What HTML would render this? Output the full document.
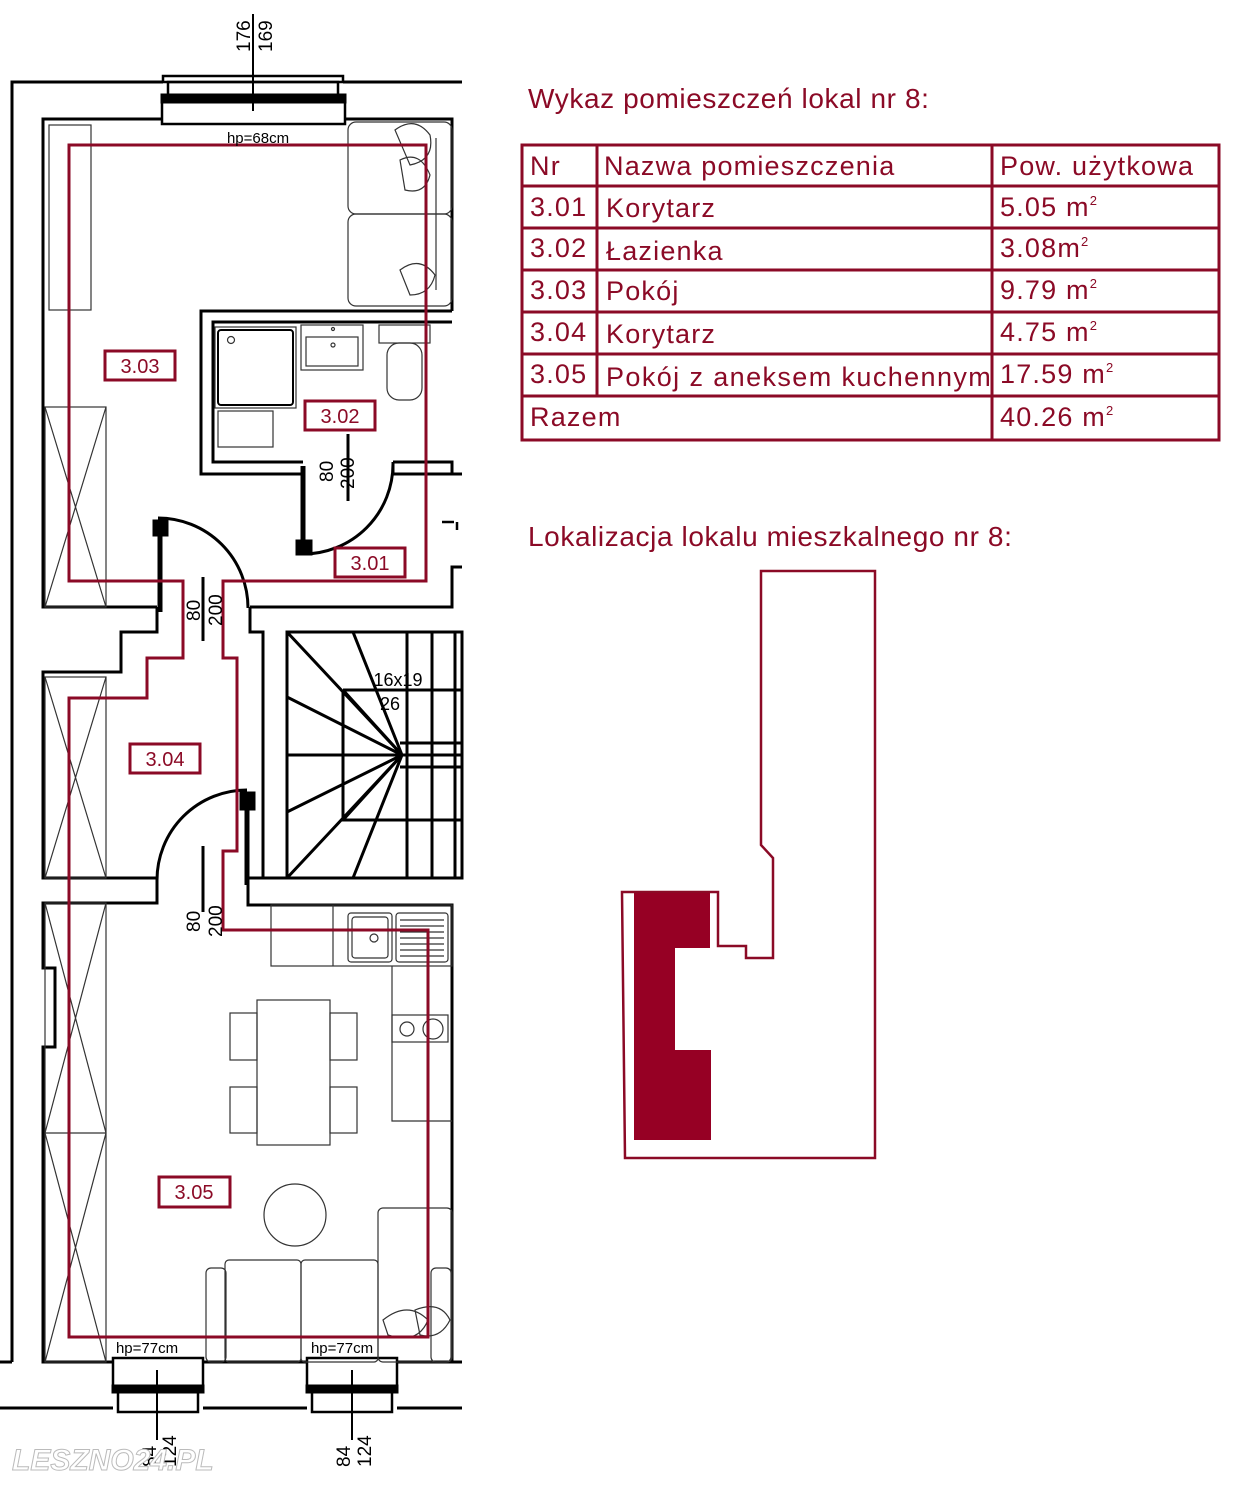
<!DOCTYPE html>
<html><head><meta charset="utf-8"><style>
html,body{margin:0;padding:0;background:#fff;}
body{width:1243px;height:1500px;position:relative;overflow:hidden;font-family:"Liberation Sans",sans-serif;}
svg{position:absolute;left:0;top:0;}
.t{font-family:"Liberation Sans",sans-serif;}
</style></head><body>
<svg width="1243" height="1500" viewBox="0 0 1243 1500" xmlns="http://www.w3.org/2000/svg">
<g fill="none" stroke="#000" stroke-width="3">
<polyline points="12,1362 12,82 163,82"/>
<line x1="343" y1="82" x2="462" y2="82"/>
<line x1="0" y1="1408" x2="113" y2="1408"/><line x1="203" y1="1408" x2="307" y2="1408"/><line x1="397" y1="1408" x2="462" y2="1408"/>
<line x1="0" y1="1362" x2="12" y2="1362"/>
<polyline points="163,119 43,119 43,607 157,607"/>
<polyline points="345,119 452,119 452,311"/>
<polyline points="250,607 452,607 452,567 462,567"/>
<polyline points="157,607 157,632 121,632 121,672 43,672 43,878 157,878 157,903 43,903 43,968 55,968 55,1047 43,1047 43,1362 113,1362"/>
<line x1="203" y1="1362" x2="307" y2="1362"/><line x1="397" y1="1362" x2="462" y2="1362"/>
<polyline points="250,607 250,632 263,632 263,878 248,878 248,905 452,905 452,1362"/>
<line x1="263" y1="878" x2="462" y2="878"/>
<polyline points="303,474 201,474 201,311 452,311"/>
<polyline points="303,462 213,462 213,322 452,322"/>
<polyline points="393,462 452,462 452,474 393,474 393,462"/>
<line x1="452" y1="474" x2="462" y2="474"/>
<rect x="163" y="76" width="180" height="6" stroke-width="2.5"/>
<rect x="168" y="82" width="170" height="13" stroke-width="2.5"/>
<rect x="162" y="95" width="183" height="7" fill="#000"/>
<rect x="162" y="102" width="183" height="22" stroke-width="2.5"/>
<rect x="113" y="1358" width="90" height="28" stroke-width="2.5"/>
<rect x="113" y="1386" width="90" height="6" fill="#000"/>
<rect x="118" y="1392" width="80" height="20" stroke-width="2.5"/>
<rect x="307" y="1358" width="90" height="28" stroke-width="2.5"/>
<rect x="307" y="1386" width="90" height="6" fill="#000"/>
<rect x="312" y="1392" width="80" height="20" stroke-width="2.5"/>
</g>
<g stroke="#000" stroke-width="2">
<line x1="253" y1="14" x2="253" y2="111"/>
<line x1="157" y1="1370" x2="157" y2="1440"/>
<line x1="352" y1="1370" x2="352" y2="1440"/>
<line x1="348" y1="434" x2="348" y2="501" stroke-width="3"/>
<line x1="203" y1="577" x2="203" y2="641" stroke-width="3"/>
<line x1="203" y1="846" x2="203" y2="912" stroke-width="3"/>
</g>
<g fill="none" stroke="#333" stroke-width="1.2">
<rect x="49" y="125" width="42" height="185"/>
<rect x="45" y="407" width="61" height="200"/><path d="M45,407 L106,607 M106,407 L45,607"/>
<rect x="45" y="677" width="61" height="201"/><path d="M45,677 L106,878 M106,677 L45,878"/>
<rect x="45" y="903" width="61" height="459"/><path d="M45,903 L106,1133 L45,1362 M106,903 L45,1133 L106,1362 M45,1133 L106,1133"/>
<rect x="348" y="122" width="104" height="92" rx="8"/>
<rect x="348" y="214" width="104" height="92" rx="8"/>
<line x1="436" y1="138" x2="436" y2="290"/>
<path d="M395,130 q20,-15 35,5 q5,25 -20,30 z M400,160 q20,-10 30,15 q-5,20 -25,15 z M400,270 q20,-15 35,5 q-5,20 -25,20 z"/>
<rect x="218" y="330" width="75" height="75" rx="3" stroke="#000" stroke-width="2"/>
<circle cx="231" cy="340" r="3.5"/>
<rect x="215" y="327" width="81" height="81"/>
<rect x="218" y="411" width="55" height="36"/>
<rect x="301" y="325" width="62" height="45"/><rect x="306" y="337" width="52" height="29"/>
<circle cx="333" cy="329" r="1.5"/><circle cx="333" cy="345" r="2"/>
<rect x="379" y="325" width="51" height="18"/>
<rect x="387" y="343" width="35" height="57" rx="12"/>
<rect x="271" y="905" width="181" height="61"/><line x1="333" y1="905" x2="333" y2="966"/>
<rect x="348" y="913" width="44" height="49" rx="3"/><rect x="352" y="917" width="36" height="41" rx="3"/>
<circle cx="374" cy="938" r="4"/>
<rect x="396" y="913" width="52" height="49" rx="3"/>
<path d="M400,920 h44 M400,926 h44 M400,932 h44 M400,938 h44 M400,944 h44 M400,950 h44 M400,956 h44"/>
<polyline points="392,966 392,1121 452,1121"/>
<rect x="392" y="1015" width="56" height="27"/><circle cx="407" cy="1029" r="7"/><circle cx="433" cy="1029" r="10"/>
<rect x="257" y="1000" width="73" height="145"/>
<rect x="230" y="1013" width="27" height="47"/><rect x="230" y="1087" width="27" height="46"/>
<rect x="330" y="1013" width="27" height="47"/><rect x="330" y="1087" width="27" height="46"/>
<circle cx="295" cy="1215" r="31"/>
<rect x="206" y="1268" width="20" height="94" rx="5"/>
<rect x="225" y="1260" width="76" height="102" rx="4"/><rect x="301" y="1260" width="77" height="102" rx="4"/>
<rect x="378" y="1208" width="74" height="154" rx="5"/>
<rect x="431" y="1268" width="20" height="94" rx="5"/>
<path d="M383,1320 q25,-20 45,0 q-10,25 -40,15 z M415,1310 q25,-10 35,10 q-10,20 -30,15 z"/>
</g>
<g fill="none" stroke="#000" stroke-width="3">
<rect x="287" y="632" width="175" height="246"/>
<path d="M407,632 V878 M432,632 V878 M455,632 V878"/>
<path d="M343,690 H462 M343,690 V820 H462 M287,755 H462 M400,743 H462 M400,767 H462"/>
<path d="M402,755 L287,632 M402,755 L353,632 M402,755 L287,697 M402,755 L343,690 M402,755 L287,812 M402,755 L343,820 M402,755 L287,878 M402,755 L353,878"/>
</g>
<g fill="none" stroke="#000">
<line x1="303" y1="466" x2="303" y2="550" stroke-width="5"/>
<rect x="296" y="540" width="16" height="15" fill="#000"/>
<path d="M303,554 A90,90 0 0 0 393,464" stroke-width="3"/>
<line x1="160" y1="522" x2="160" y2="612" stroke-width="5"/>
<rect x="153" y="520" width="15" height="16" fill="#000"/>
<path d="M158,518 A90,90 0 0 1 248,608" stroke-width="3"/>
<line x1="247" y1="795" x2="247" y2="885" stroke-width="5"/>
<rect x="240" y="792" width="15" height="18" fill="#000"/>
<path d="M247,790 A90,90 0 0 0 157,880" stroke-width="3"/>
<path d="M442,522 h12 M457,522 v8" stroke-width="2.5"/>
</g>
<g fill="none" stroke="#8b0a26" stroke-width="3">
<polyline points="183,615 183,581 69,581 69,145 426,145 426,581 223,581 223,658 237,658 237,851 223,851 223,930 428,930 428,1337 69,1337 69,698 147,698 147,658 183,658 183,600"/>
<rect x="105" y="351" width="70" height="29"/>
<rect x="305" y="401" width="70" height="29"/>
<rect x="335" y="548" width="70" height="29"/>
<rect x="130" y="744" width="70" height="29"/>
<rect x="159" y="1177" width="71" height="30"/>
</g>
<g class="t" fill="#8b0a26" font-size="20" text-anchor="middle">
<text x="140" y="373">3.03</text><text x="340" y="423">3.02</text><text x="370" y="570">3.01</text>
<text x="165" y="766">3.04</text><text x="194" y="1199">3.05</text>
</g>
<g class="t" fill="#000" font-size="15" text-anchor="middle">
<text x="258" y="143">hp=68cm</text>
<text x="147" y="1353">hp=77cm</text><text x="342" y="1353">hp=77cm</text>
<text x="398" y="686" font-size="18">16x19</text><text x="390" y="710" font-size="18">26</text>
</g>
<g class="t" fill="#000" font-size="19">
<text transform="translate(250,52) rotate(-90)">176</text>
<text transform="translate(272,52) rotate(-90)">169</text>
<text transform="translate(333,482) rotate(-90)">80</text>
<text transform="translate(354,489) rotate(-90)">200</text>
<text transform="translate(200,621) rotate(-90)">80</text>
<text transform="translate(222,626) rotate(-90)">200</text>
<text transform="translate(200,932) rotate(-90)">80</text>
<text transform="translate(222,937) rotate(-90)">200</text>
<text transform="translate(156,1467) rotate(-90)">84</text>
<text transform="translate(176,1467) rotate(-90)">124</text>
<text transform="translate(350,1467) rotate(-90)">84</text>
<text transform="translate(371,1467) rotate(-90)">124</text>
</g>
<text x="12" y="1470" class="t" font-size="30" font-style="italic" font-weight="bold" fill="#fff" stroke="#bbb" stroke-width="1">LESZNO24.PL</text>
<g class="t" fill="#8b0a26" font-size="28" letter-spacing="0.6">
<text x="528" y="108">Wykaz pomieszczeń lokal nr 8:</text>
<text x="528" y="546">Lokalizacja lokalu mieszkalnego nr 8:</text>
</g>
<g fill="none" stroke="#8b0a26" stroke-width="3">
<rect x="522" y="145" width="697" height="295"/>
<path d="M522,186 H1219 M522,228 H1219 M522,270 H1219 M522,312 H1219 M522,354 H1219 M522,396 H1219"/>
<path d="M597,145 V396 M992,145 V440"/>
</g>
<g class="t" fill="#8b0a26" font-size="27" letter-spacing="1.2">
<text x="530" y="175">Nr</text><text x="604" y="175">Nazwa pomieszczenia</text><text x="1000" y="175">Pow. użytkowa</text>
<text x="530" y="216">3.01</text><text x="606" y="217">Korytarz</text><text x="1000" y="216">5.05 m<tspan font-size="13" dy="-11">2</tspan></text>
<text x="530" y="257">3.02</text><text x="606" y="260">Łazienka</text><text x="1000" y="257">3.08m<tspan font-size="13" dy="-11">2</tspan></text>
<text x="530" y="299">3.03</text><text x="606" y="300">Pokój</text><text x="1000" y="299">9.79 m<tspan font-size="13" dy="-11">2</tspan></text>
<text x="530" y="341">3.04</text><text x="606" y="343">Korytarz</text><text x="1000" y="341">4.75 m<tspan font-size="13" dy="-11">2</tspan></text>
<text x="530" y="383">3.05</text><text x="606" y="386" letter-spacing="1.4">Pokój z aneksem kuchennym</text><text x="1000" y="383">17.59 m<tspan font-size="13" dy="-11">2</tspan></text>
<text x="530" y="426">Razem</text><text x="1000" y="426">40.26 m<tspan font-size="13" dy="-11">2</tspan></text>
</g>
<polygon points="761,571 875,571 875,1158 625,1158 622,892 718,892 718,946 746,946 746,958 773,958 773,858 761,845" fill="none" stroke="#8b0a26" stroke-width="2.5"/>
<polygon points="634,893 710,893 710,948 675,948 675,1050 711,1050 711,1140 634,1140" fill="#960024"/>
</svg>
</body></html>
